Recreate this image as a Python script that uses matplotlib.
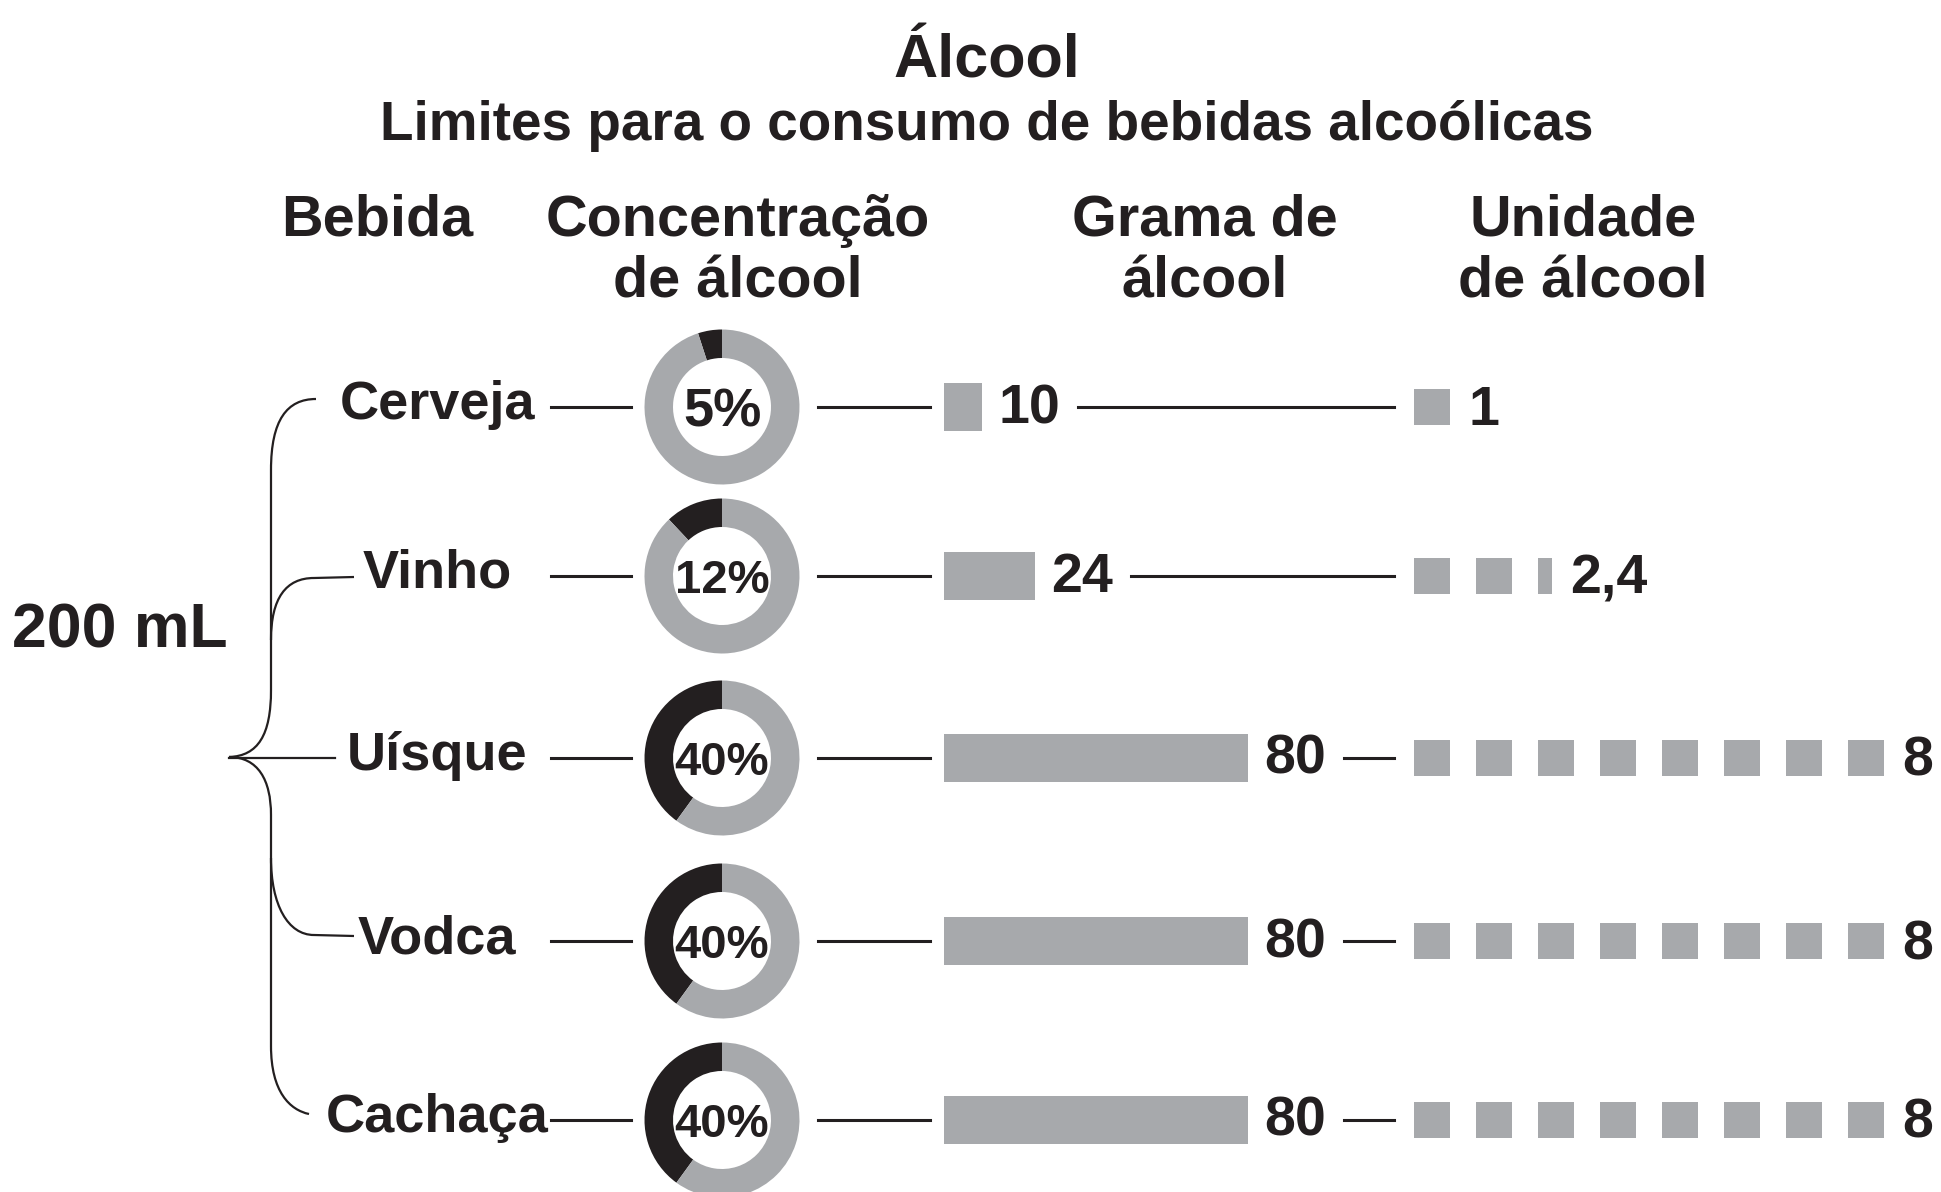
import math

import matplotlib.pyplot as plt
from matplotlib.patches import Wedge, PathPatch
from matplotlib.path import Path

plt.rcParams['font.family'] = ['Liberation Sans', 'DejaVu Sans']

# limites por dose de 200 mL
bebidas = ['Cerveja', 'Vinho', 'Uísque', 'Vodca', 'Cachaça']
concentracao = [5, 12, 40, 40, 40]      # % de álcool
gramas = [10, 24, 80, 80, 80]           # g de álcool
unidades = [1, 2.4, 8, 8, 8]            # unidades de álcool
unidades_txt = ['1', '2,4', '8', '8', '8']

DARK = '#231f20'
GRAY = '#a7a9ac'

W, H = 1941, 1192
fig = plt.figure(figsize=(W / 100, H / 100), dpi=100)
ax = fig.add_axes([0, 0, 1, 1])
ax.set_xlim(0, W)
ax.set_ylim(H, 0)
ax.axis('off')

# layout, in pixels
rows_y = [407, 576, 758, 941, 1120]
DONUT_X, R_OUT, RING = 722, 77.5, 28.5
BAR_X, BAR_H, PX_PER_G = 944, 48, 3.8
SQ_X, SQ, SQ_STEP = 1414, 36, 62
LW = 2.2

# titles and column headers
ax.text(987, 78, 'Álcool', ha='center', va='baseline', fontsize=44,
        fontweight='bold', color=DARK)
ax.text(987, 140, 'Limites para o consumo de bebidas alcoólicas',
        ha='center', va='baseline', fontsize=39.5, fontweight='bold', color=DARK)
headers = [(377, 'Bebida', ''), (738, 'Concentração', 'de álcool'),
           (1205, 'Grama de', 'álcool'), (1583, 'Unidade', 'de álcool')]
for x, l1, l2 in headers:
    ax.text(x, 236, l1, ha='center', va='baseline', fontsize=41.5,
            fontweight='bold', color=DARK)
    if l2:
        ax.text(x, 297, l2, ha='center', va='baseline', fontsize=41.5,
                fontweight='bold', color=DARK)

ax.text(12, 631, '200 mL', ha='left', va='center', fontsize=45,
        fontweight='bold', color=DARK)

# brace joining the drinks
brace = [
    [(316, 399), (287, 399), (271, 420), (271, 470), (271, 690),
     (271, 735), (258, 756), (229, 757)],
    [(229, 757), (258, 757), (271, 780), (271, 815), (271, 1046),
     (271, 1092), (290, 1110), (309, 1114)],
]
codes = [Path.MOVETO, Path.CURVE4, Path.CURVE4, Path.CURVE4, Path.LINETO,
         Path.CURVE4, Path.CURVE4, Path.CURVE4]
for verts in brace:
    ax.add_patch(PathPatch(Path(verts, codes), fill=False, ec=DARK, lw=1.6))
branch_codes = [Path.MOVETO, Path.LINETO, Path.CURVE4, Path.CURVE4, Path.CURVE4]
ax.add_patch(PathPatch(Path([(354, 577), (314, 578), (286, 578), (271, 598),
                             (271, 640)], branch_codes),
                       fill=False, ec=DARK, lw=1.6))
ax.add_patch(PathPatch(Path([(354, 936), (314, 935), (288, 935), (271, 905),
                             (271, 858)], branch_codes),
                       fill=False, ec=DARK, lw=1.6))
ax.plot([229, 335], [758, 758], color=DARK, lw=1.6)

renderer = fig.canvas.get_renderer()
inv = ax.transData.inverted()

for i, y in enumerate(rows_y):
    ax.text(437, y + 12, bebidas[i], ha='center', va='baseline', fontsize=39,
            fontweight='bold', color=DARK)
    ax.plot([551, 631], [y, y], color=DARK, lw=LW)

    # concentration ring, dark share drawn from 12 o'clock anticlockwise
    ang = 360 * concentracao[i] / 100
    ax.add_patch(Wedge((DONUT_X, y), R_OUT, 270 - ang, 270, width=RING,
                       fc=DARK, lw=0))
    ax.add_patch(Wedge((DONUT_X, y), R_OUT, 270, 630 - ang, width=RING,
                       fc=GRAY, lw=0))
    label = f'{concentracao[i]}%'
    fs = 39 if len(label) < 3 else 34
    ax.text(DONUT_X, y + fs * 0.5, label, ha='center', va='baseline',
            fontsize=fs, fontweight='bold', color=DARK)
    ax.plot([818, 930], [y, y], color=DARK, lw=LW)

    # grams bar
    bw = gramas[i] * PX_PER_G
    ax.barh(y, bw, left=BAR_X, height=BAR_H, color=GRAY, lw=0)
    t = ax.text(BAR_X + bw + 16, y + 16, str(gramas[i]), ha='left',
                va='baseline', fontsize=40, fontweight='bold', color=DARK)
    bb = t.get_window_extent(renderer).transformed(inv)
    ax.plot([bb.x1 + 18, SQ_X - 20], [y, y], color=DARK, lw=LW)

    # unit squares, last one cut to the fractional part
    n = math.ceil(unidades[i])
    xs = [SQ_X + k * SQ_STEP for k in range(n)]
    ws = [SQ * min(1, unidades[i] - k) for k in range(n)]
    ax.bar(xs, SQ, width=ws, bottom=y - SQ / 2, align='edge', color=GRAY, lw=0)
    ax.text(xs[-1] + ws[-1] + 18, y + 18, unidades_txt[i], ha='left',
            va='baseline', fontsize=40, fontweight='bold', color=DARK)

fig.savefig('out.png', dpi=100, facecolor='white')
